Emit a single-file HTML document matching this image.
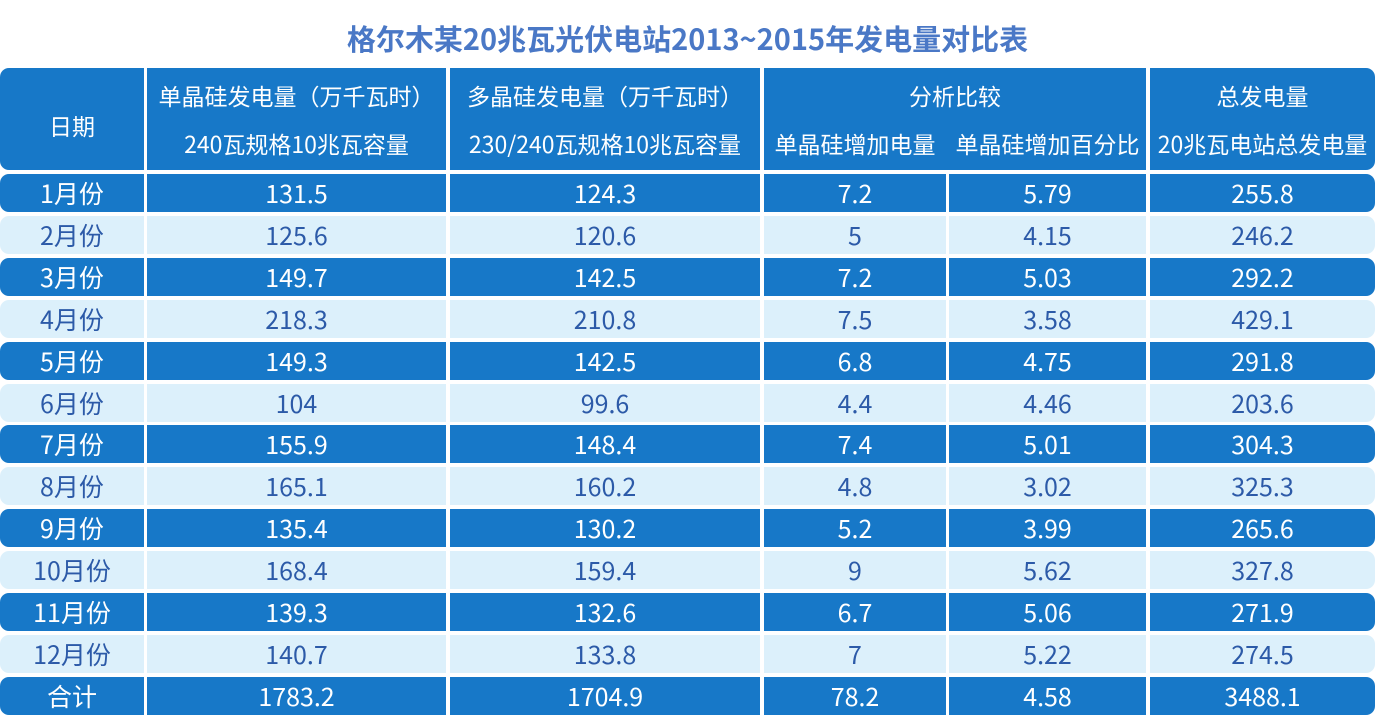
<!DOCTYPE html>
<html><head><meta charset="utf-8"><style>
body{margin:0;width:1375px;height:728px;background:#fff;position:relative;overflow:hidden;font-family:"Noto Sans CJK SC","Liberation Sans",sans-serif}
.t{position:absolute;left:0;width:1375px;top:19px;text-align:center;font-size:29px;font-weight:bold;color:#4a78c6;line-height:38px}
.c{position:absolute;display:flex;align-items:center;justify-content:center;font-size:25px;box-sizing:border-box;line-height:1}
.d{background:#1778c8;color:#fff}
.l{background:#dcf0fb;color:#2c5aa8}
.h{font-size:23px;color:#fff;position:absolute;text-align:center;line-height:30px}
</style></head><body>
<div class="t">格尔木某20兆瓦光伏电站2013~2015年发电量对比表</div>
<div id="g"></div>
<script>
var X=[[0,144],[147,446],[450,760],[764,946],[949,1146],[1150,1375]];
var g=document.getElementById('g'),h='';
var hd=[[0,144],[147,446],[450,760],[764,1146],[1150,1375]];
hd.forEach(function(c,i){var r=i==0?'border-radius:9px 0 0 9px;':i==4?'border-radius:0 9px 9px 0;':'';
h+='<div class="c d" style="left:'+c[0]+'px;width:'+(c[1]-c[0])+'px;top:68px;height:102px;'+r+'"></div>';});
function ht(x,w,y,s){h+='<div class="h" style="left:'+x+'px;width:'+w+'px;top:'+y+'px">'+s+'</div>';}
ht(0,144,110,'日期');
ht(147,299,80,'单晶硅发电量（万千瓦时）');ht(147,299,128,'240瓦规格10兆瓦容量');
ht(450,310,80,'多晶硅发电量（万千瓦时）');ht(450,310,128,'230/240瓦规格10兆瓦容量');
ht(764,382,80,'分析比较');ht(764,182,128,'单晶硅增加电量');ht(949,197,128,'单晶硅增加百分比');
ht(1150,225,80,'总发电量');ht(1150,225,128,'20兆瓦电站总发电量');
var D=[['1月份','131.5','124.3','7.2','5.79','255.8'],['2月份','125.6','120.6','5','4.15','246.2'],['3月份','149.7','142.5','7.2','5.03','292.2'],['4月份','218.3','210.8','7.5','3.58','429.1'],['5月份','149.3','142.5','6.8','4.75','291.8'],['6月份','104','99.6','4.4','4.46','203.6'],['7月份','155.9','148.4','7.4','5.01','304.3'],['8月份','165.1','160.2','4.8','3.02','325.3'],['9月份','135.4','130.2','5.2','3.99','265.6'],['10月份','168.4','159.4','9','5.62','327.8'],['11月份','139.3','132.6','6.7','5.06','271.9'],['12月份','140.7','133.8','7','5.22','274.5'],['合计','1783.2','1704.9','78.2','4.58','3488.1']];
D.forEach(function(row,i){var y=Math.round(174+i*41.9);var cl=i%2?'l':'d';
row.forEach(function(v,j){var r=j==0?'border-radius:9px 0 0 9px;':j==5?'border-radius:0 9px 9px 0;':'';
h+='<div class="c '+cl+'" style="left:'+X[j][0]+'px;width:'+(X[j][1]-X[j][0])+'px;top:'+y+'px;height:38px;'+r+'">'+v+'</div>';});});
g.innerHTML=h;
</script>
</body></html>
